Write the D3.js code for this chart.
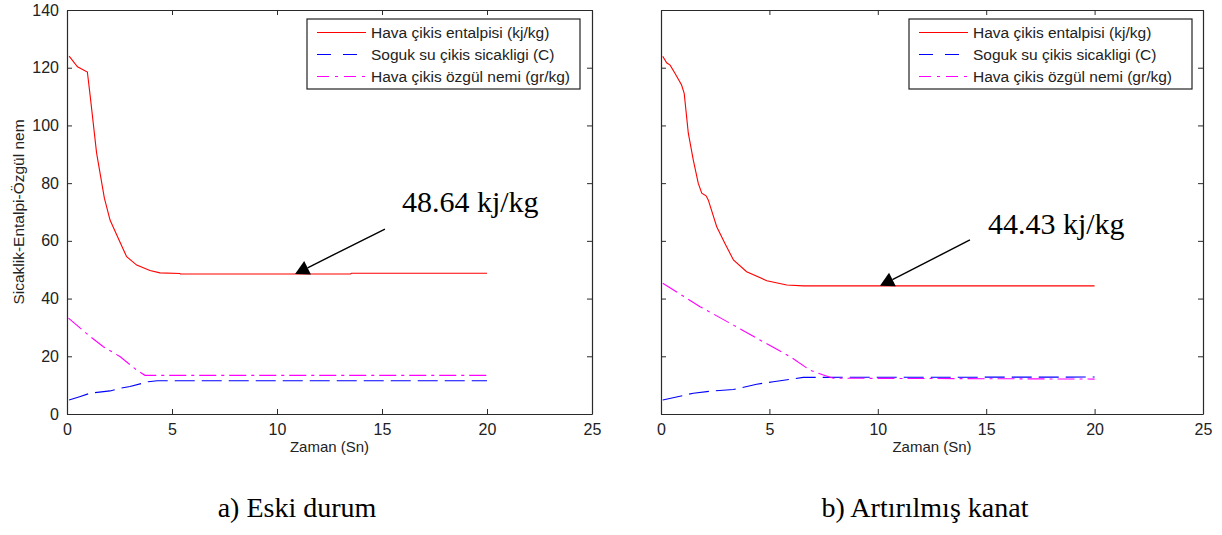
<!DOCTYPE html>
<html><head><meta charset="utf-8">
<script src="https://cdn.jsdelivr.net/npm/d3@7"></script>
<style>
html,body{margin:0;padding:0;background:#ffffff;}
svg{display:block;}
</style></head>
<body>
<svg id="chart" width="1222" height="535"></svg>
<script>
// ---- data ----
const seriesNames = ["Hava çikis entalpisi (kj/kg)", "Soguk su çikis sicakligi (C)", "Hava çikis özgül nemi (gr/kg)"];
const xTicks = [0, 5, 10, 15, 20, 25];
const yTicks = [0, 20, 40, 60, 80, 100, 120, 140];
const xLabel = "Zaman (Sn)";
const yLabel = "Sicaklik-Entalpi-Özgül nem";
const captions = ["a) Eski durum", "b) Artırılmış kanat"];
const annotations = ["48.64 kj/kg", "44.43 kj/kg"];

// panel a
const aRedX = [0.1, 0.5, 0.97, 1.1, 1.41, 1.78, 2.05, 2.37, 2.84, 3.32, 3.95, 4.43, 5.38, 5.4, 13.5, 13.55, 20];
const aRedY = [124, 120.3, 118.5, 110.5, 90.4, 74.8, 67.2, 62, 54.5, 51.6, 49.7, 48.9, 48.7, 48.5, 48.5, 48.8, 48.8];
const aBlueX = [0.1, 0.6, 1.1, 2.05, 2.52, 3.0, 3.87, 4.3, 20];
const aBlueY = [4.85, 6, 7.2, 8, 8.9, 9.5, 11.2, 11.5, 11.5];
const aMagX = [0.07, 1.01, 1.73, 2.52, 3.32, 3.71, 20];
const aMagY = [33.2, 27.4, 23.3, 19.9, 15.2, 13.4, 13.4];
const aArrow = {tipX: 10.86, tipY: 48.5, tailX: 15.14, tailY: 64.1, textX: 15.95, textY: 70};

// panel b
const bRedX = [0.08, 0.26, 0.42, 0.65, 0.95, 1.07, 1.26, 1.49, 1.72, 1.88, 2.08, 2.18, 2.57, 2.95, 3.34, 3.95, 4.88, 5.8, 6.57, 20];
const bRedY = [124, 121.7, 120.9, 118, 114, 111.1, 97.3, 88, 79.9, 76.5, 75.6, 74.2, 64.9, 59.1, 53.4, 49.3, 46.2, 44.7, 44.4, 44.4];
const bBlueX = [0.08, 1.49, 2.41, 3.34, 4.41, 5.18, 5.95, 6.56, 20];
const bBlueY = [4.85, 7.2, 8, 8.5, 10.3, 11.2, 12, 12.7, 12.8];
const bMagX = [0.08, 1.8, 3.34, 4.72, 5.95, 6.87, 7.49, 7.95, 20];
const bMagY = [45.3, 37.2, 30.8, 25, 19.9, 15.2, 13.5, 12.4, 12.1];
const bArrow = {tipX: 10.1, tipY: 44.4, tailX: 14.25, tailY: 60.3, textX: 15.08, textY: 62.4};

// ---- styles ----
const colors = ["#ff0000", "#0000ff", "#ff00ff"];
const dashes = [null, "20,7", "17,5,3,5"];
const SANS = "Arial, 'Liberation Sans', sans-serif";
const SERIF = "'Times New Roman', 'Liberation Serif', serif";

const svg = d3.select("#chart");

function zip(xs, ys) { return xs.map((x, i) => [x, ys[i]]); }

function panel(cfg) {
  const x = d3.scaleLinear().domain([0, 25]).range([cfg.left, cfg.right]);
  const y = d3.scaleLinear().domain([0, 140]).range([414, 10]);
  const g = svg.append("g");

  g.append("rect").attr("x", cfg.left).attr("y", 10)
    .attr("width", cfg.right - cfg.left).attr("height", 404).attr("fill", "#ffffff");

  // axes (ticks inward)
  const axB = g.append("g").attr("transform", `translate(0,414)`)
    .call(d3.axisBottom(x).tickValues(xTicks).tickSize(-5).tickSizeOuter(0).tickPadding(10).tickFormat(d3.format("d")));
  const axT = g.append("g").attr("transform", `translate(0,10)`)
    .call(d3.axisTop(x).tickValues(xTicks).tickSize(-5).tickSizeOuter(0).tickFormat(""));
  const axL = g.append("g").attr("transform", `translate(${cfg.left},0)`)
    .call(d3.axisLeft(y).tickValues(yTicks).tickSize(-5).tickSizeOuter(0).tickPadding(8)
      .tickFormat(cfg.yLabels ? d3.format("d") : ""));
  const axR = g.append("g").attr("transform", `translate(${cfg.right},0)`)
    .call(d3.axisRight(y).tickValues(yTicks).tickSize(-5).tickSizeOuter(0).tickFormat(""));
  [axB, axT, axL, axR].forEach(a => {
    a.select(".domain").attr("stroke", "#2a2a2a").attr("stroke-width", 1.2);
    a.selectAll(".tick line").attr("stroke", "#2a2a2a");
    a.selectAll(".tick text").attr("font-family", SANS).attr("font-size", 16).attr("fill", "#222");
  });

  g.append("text").attr("x", (cfg.left + cfg.right) / 2).attr("y", 452)
    .attr("text-anchor", "middle").attr("font-family", SANS).attr("font-size", 15).attr("fill", "#222")
    .text(xLabel);
  if (cfg.yLabels) {
    g.append("text").attr("transform", `translate(24,${(10 + 414) / 2}) rotate(-90)`)
      .attr("text-anchor", "middle").attr("font-family", SANS).attr("font-size", 15.5).attr("fill", "#222")
      .text(yLabel);
  }

  const line = d3.line().x(d => x(d[0])).y(d => y(d[1]));
  cfg.series.forEach((s, i) => {
    g.append("path").datum(s).attr("d", line).attr("fill", "none")
      .attr("stroke", colors[i]).attr("stroke-width", 1.1)
      .attr("stroke-dasharray", dashes[i]);
  });

  // annotation: text + arrow
  const a = cfg.arrow;
  g.append("text").attr("x", x(a.textX)).attr("y", y(a.textY))
    .attr("font-family", SERIF).attr("font-size", 30).attr("fill", "#000")
    .text(cfg.annotation);
  const tx = x(a.tipX), ty = y(a.tipY), sx = x(a.tailX), sy = y(a.tailY);
  const dx = sx - tx, dy = sy - ty, len = Math.hypot(dx, dy);
  const ux = dx / len, uy = dy / len, hl = 14, hw = 7.5;
  const bx = tx + ux * hl, by = ty + uy * hl;
  g.append("line").attr("x1", sx).attr("y1", sy).attr("x2", bx).attr("y2", by)
    .attr("stroke", "#000").attr("stroke-width", 1.4);
  g.append("polygon")
    .attr("points", [[tx, ty], [bx - uy * hw, by + ux * hw], [bx + uy * hw, by - ux * hw]].map(p => p.join(",")).join(" "))
    .attr("fill", "#000");

  // legend
  const lg = g.append("g");
  lg.append("rect").attr("x", cfg.legX).attr("y", 19).attr("width", cfg.legW).attr("height", 70)
    .attr("fill", "#ffffff").attr("stroke", "#222").attr("stroke-width", 1.2);
  seriesNames.forEach((n, i) => {
    const ly = 32.5 + i * 22;
    lg.append("line").attr("x1", cfg.legX + 10).attr("x2", cfg.legX + 59).attr("y1", ly).attr("y2", ly)
      .attr("stroke", colors[i]).attr("stroke-width", 1.1)
      .attr("stroke-dasharray", i === 1 ? "14,12" : (i === 2 ? "12,6,3,6" : null));
    lg.append("text").attr("x", cfg.legX + 64).attr("y", ly + 5.5)
      .attr("font-family", SANS).attr("font-size", 15.5).attr("fill", "#222").text(n);
  });

  // caption
  svg.append("text").attr("x", cfg.capX).attr("y", 517).attr("text-anchor", "middle")
    .attr("font-family", SERIF).attr("font-size", 28).attr("fill", "#000").text(cfg.caption);
}

panel({left: 67, right: 592, yLabels: true,
  series: [zip(aRedX, aRedY), zip(aBlueX, aBlueY), zip(aMagX, aMagY)],
  arrow: aArrow, annotation: annotations[0], legX: 307, legW: 273, caption: captions[0], capX: 297});
panel({left: 661, right: 1203, yLabels: false,
  series: [zip(bRedX, bRedY), zip(bBlueX, bBlueY), zip(bMagX, bMagY)],
  arrow: bArrow, annotation: annotations[1], legX: 909, legW: 283, caption: captions[1], capX: 925});
</script>
</body></html>
